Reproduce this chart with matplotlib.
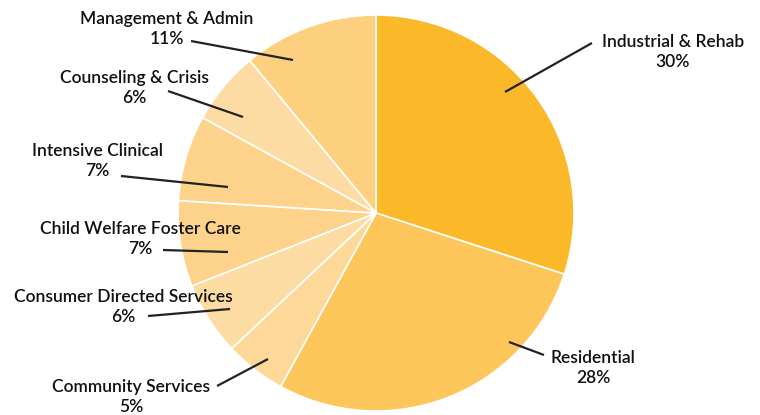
import matplotlib.pyplot as plt

labels = ["Industrial & Rehab", "Residential", "Community Services",
          "Consumer Directed Services", "Child Welfare Foster Care",
          "Intensive Clinical", "Counseling & Crisis", "Management & Admin"]
shares = [30, 28, 5, 6, 7, 7, 6, 11]
colors = ["#FBB829", "#FDC65A", "#FDD898", "#FDDCA3", "#FDD38B",
          "#FDD38B", "#FDDCA3", "#FDD07F"]

# layout in pixel coords (x, y from top): label centre, leader start, leader end
label_pos = [(673, 52), (593, 368), (131, 397), (123, 307),
             (140, 239), (97, 161), (134, 88), (167, 29)]
leader = [((505, 92), (592, 43)), ((509, 342), (544, 355)),
          ((268, 359), (217, 386)), ((230, 309), (148, 316)),
          ((228, 252), (163, 250)), ((228, 187), (121, 176)),
          ((243, 117), (168, 91)), ((293, 60), (191, 41))]

W, H = 760, 415
fig = plt.figure(figsize=(7.6, 4.15), dpi=100)
ax = fig.add_axes([0, 0, 1, 1])

ax.pie(shares, colors=colors, startangle=90, counterclock=False,
       center=(376, H - 213), radius=198, frame=True,
       wedgeprops=dict(edgecolor="white", linewidth=1.2))
ax.set_xlim(0, W)
ax.set_ylim(0, H)
ax.set_aspect("equal")
ax.axis("off")

for name, pct, (tx, ty), (p0, p1) in zip(labels, shares, label_pos, leader):
    ax.plot([p0[0], p1[0]], [H - p0[1], H - p1[1]], color="#222222",
            lw=1.6, solid_capstyle="butt")
    ax.text(tx, H - ty, f"{name}\n{pct}%", ha="center", va="center",
            fontsize=12.5, family="Lato", fontweight="semibold",
            color="#111111", linespacing=1.3)

fig.savefig("out.png", dpi=100)
